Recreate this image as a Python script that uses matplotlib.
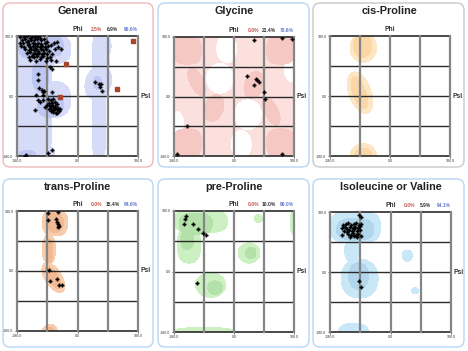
import numpy as np
import matplotlib
matplotlib.use("Agg")
import matplotlib.pyplot as plt
from matplotlib.patches import FancyBboxPatch

plt.rcParams["font.family"] = ["Liberation Sans", "DejaVu Sans"]

# ---------------- data ----------------
panel_titles = ["General", "Glycine", "cis-Proline", "trans-Proline", "pre-Proline", "Isoleucine or Valine"]
panel_percent = [("2.5%", "6.9%", "90.6%"), ("0.0%", "21.4%", "78.6%"), None,
                 ("0.0%", "15.4%", "84.6%"), ("0.0%", "10.0%", "90.0%"), ("0.0%", "5.9%", "94.1%")]

general_phi = [-170, -160, -150, -142, -135, -125, -118, -112,
               -165, -155, -146, -138, -128, -120, -108, -100,
               -172, -162, -150, -143, -133, -126, -117, -109, -98, -90, -70, -62,
               -168, -158, -148, -140, -132, -127, -120, -113, -105, -97, -88, -80, -58,
               -155, -145, -138, -130, -124, -118, -110, -103, -95, -85, -68, -50,
               -150, -140, -133, -126, -120, -114, -106, -99, -90, -75,
               -145, -135, -128, -120, -110, -102, -92, -82,
               -140, -122, -112, -95, -78, -65,
               -82, -77, -117, -119, -114, -107, -104, -99, -102, -75, -122, -119, -112, -104, -127, -97,
               -88, -80, -72, -85, -76, -68, -62, -90, -82, -74, -66, -58, -86, -78, -70, -62, -55, -72,
               -65, -80, -60, -68, -75, -52,
               51, 63, 71, 68, 73,
               -77, -89, -152, -156]
general_psi = [178, 176, 179, 175, 178, 176, 179, 174,
               168, 170, 166, 169, 167, 170, 168, 171,
               160, 158, 161, 157, 160, 156, 159, 157, 160, 162, 160, 163,
               150, 148, 152, 147, 150, 145, 149, 146, 151, 147, 150, 152, 148,
               140, 138, 142, 137, 140, 136, 141, 137, 140, 136, 142, 140,
               128, 131, 127, 130, 126, 129, 125, 130, 127, 125,
               118, 121, 117, 120, 116, 119, 115, 118,
               108, 105, 110, 104, 108, 106,
               88, 80, 66, 48, 23, 18, 12, 16, 3, 13, 3, -12, -17, -12, -42, -32,
               -8, -12, -10, -20, -22, -18, -25, -28, -30, -33, -30, -35, -38, -40, -42, -40, -45, -48,
               -50, -46, -52, -36, -28, -38,
               43, 35, 35, 26, 16,
               -162, -170, -177, -179]
general_out_phi = [165, -33, 117, -51]
general_out_psi = [164, 95, 22, -4]

glycine_phi = [61, 143, 173, 40, 65, 69, 76, 61, 90, 94, -141, -170, 143]
glycine_psi = [170, 178, 175, 62, 53, 50, 45, 34, 15, -8, -90, -175, -173]

cispro_phi = []
cispro_psi = []

transpro_phi = [-87, -57, -87, -65, -62, -59, -54, -57, -84, -82, -60, -54, -47]
transpro_psi = [173, 178, 153, 155, 148, 141, 136, 133, 3, -30, -23, -42, -42]

prepro_phi = [-145, -147, -149, -122, -107, -94, -85, -112]
prepro_psi = [165, 157, 140, 140, 127, 114, 109, -35]

ileval_phi = [-95, -87, -140, -132, -125, -118, -110, -102, -95, -88, -143, -135, -128, -120,
              -113, -106, -98, -90, -138, -130, -122, -115, -108, -100, -92, -126, -118, -112,
              -104, -96, -145, -120, -110, -100, -88, -95, -88]
ileval_psi = [172, 166, 140, 143, 146, 141, 144, 147, 142, 145, 132, 135, 130, 134,
              131, 136, 133, 138, 124, 121, 126, 123, 128, 122, 125, 115, 112, 117,
              110, 114, 110, 105, 107, 104, 108, -27, -44]

# region shapes: (phi, psi, half-width, half-height, rotation deg, power)
general_allowed = [(-100, 140, 80, 45, 0, 3), (-130, 0, 54, 190, 0, 5), (-80, -10, 60, 55, 0, 2.5),
                   (-120, -170, 52, 32, 0, 2), (75, 150, 25, 42, 0, 2), (64, 0, 20, 190, 0, 5),
                   (62, 40, 38, 52, -20, 2), (72, 100, 24, 35, 0, 2)]
general_favored = [(-115, 145, 60, 38, 0, 2.5), (-62, 150, 20, 30, 0, 2), (-110, 60, 25, 50, 0, 2),
                   (-80, -30, 40, 33, 20, 2), (60, 40, 12, 20, 0, 2), (-150, -178, 25, 15, 0, 2)]

glycine_allowed = [(0, 0, 200, 200, 0, 8)]
glycine_empty = [(-22, 145, 30, 42, 0, 2), (-42, 55, 40, 45, 0, 2), (22, -145, 30, 42, 0, 2),
                 (42, -55, 40, 45, 0, 2), (175, 85, 25, 40, 0, 2), (-175, -85, 25, 40, 0, 2)]
glycine_favored = [(-140, 140, 42, 42, 0, 3), (140, 140, 42, 42, 0, 3), (-140, -140, 42, 42, 0, 3),
                   (140, -140, 42, 42, 0, 3), (60, 35, 28, 42, -20, 2), (-60, -35, 28, 42, -20, 2),
                   (-112, 45, 20, 45, 25, 2), (112, -45, 20, 45, 25, 2)]

cispro_allowed = [(-80, 145, 40, 44, 0, 2), (-90, 10, 33, 65, 20, 2), (-80, -180, 40, 37, 0, 2)]
cispro_favored = [(-82, 150, 28, 34, 0, 2), (-92, 10, 19, 50, 20, 2), (-80, -180, 26, 24, 0, 2)]

transpro_allowed = [(-67, 145, 38, 40, 0, 2.5), (-85, 65, 20, 45, 0, 2), (-72, -20, 25, 50, 32, 2),
                    (-82, -180, 22, 20, 0, 2)]
transpro_favored = [(-67, 145, 25, 30, 0, 2), (-84, 60, 11, 35, 0, 2), (-72, -20, 14, 38, 32, 2),
                    (-82, -180, 12, 12, 0, 2)]

prepro_allowed = [(-100, 150, 80, 35, 0, 3), (-135, 80, 35, 55, 0, 2.5), (73, 157, 12, 12, 0, 2),
                  (180, 145, 12, 35, 0, 2), (45, 55, 33, 30, 0, 2), (-70, -40, 45, 37, 0, 2),
                  (-90, -182, 90, 15, 0, 3)]
prepro_favored = [(-115, 142, 50, 32, 0, 2.5), (-140, 95, 20, 30, 0, 2), (50, 55, 16, 16, 0, 2),
                  (-57, -48, 22, 20, 0, 2)]

ileval_allowed = [(-105, 135, 75, 48, 0, 3), (-115, 65, 22, 35, 0, 2), (-92, -20, 55, 58, 0, 2.2),
                  (-110, -178, 45, 25, 0, 2), (50, 49, 15, 17, 0, 2), (73, -56, 10, 10, 0, 2)]
ileval_favored = [(-105, 128, 55, 33, 0, 2.5), (-95, -12, 30, 40, 0, 2)]

# ---------------- style ----------------
light_cols = ["#d6dcf8", "#fbe0de", "#fde6c3", "#f8cdae", "#cdf0c3", "#c8e8f8"]
dark_cols = ["#bec7f1", "#f5c8c4", "#fbd6a6", "#f2ba94", "#b4e1a9", "#b2d7ec"]
frame_cols = ["#f0b8bc", "#b8d6f4", "#c8c8c8", "#b8d6f4", "#b8d6f4", "#b8d6f4"]
frames = [(3, 3, 150, 164), (158, 3, 151, 164), (313, 3, 151, 164),
          (3, 179, 150, 168), (158, 179, 151, 168), (313, 179, 151, 168)]
plots = [(17, 36, 121, 120), (174, 37, 120, 119), (330, 36, 120, 120),
         (17, 211, 121, 120), (174, 211, 120, 121), (330, 212, 121, 120)]
title_y = [11.5, 11.5, 11.5, 187, 187, 187]

allowed = [general_allowed, glycine_allowed, cispro_allowed, transpro_allowed, prepro_allowed, ileval_allowed]
favored = [general_favored, glycine_favored, cispro_favored, transpro_favored, prepro_favored, ileval_favored]
empty = [[], glycine_empty, [], [], [], []]
pts = [(general_phi, general_psi), (glycine_phi, glycine_psi), (cispro_phi, cispro_psi),
       (transpro_phi, transpro_psi), (prepro_phi, prepro_psi), (ileval_phi, ileval_psi)]

W, H = 468, 351
fig = plt.figure(figsize=(W / 100, H / 100), dpi=100)
bg = fig.add_axes([0, 0, 1, 1])
bg.set_xlim(0, W)
bg.set_ylim(H, 0)
bg.axis("off")

g = np.linspace(-180, 180, 361)
X, Y = np.meshgrid(g, g)


def field(shapes):
    f = np.full(X.shape, -10.0)
    for cx, cy, a, b, rot, p in shapes:
        t = np.deg2rad(rot)
        dx, dy = X - cx, Y - cy
        u = dx * np.cos(t) + dy * np.sin(t)
        v = -dx * np.sin(t) + dy * np.cos(t)
        d = (np.abs(u / a) ** p + np.abs(v / b) ** p) ** (1.0 / p)
        f = np.maximum(f, 1 - d)
    return f


for i in range(6):
    fx, fy, fw, fh = frames[i]
    bg.add_patch(FancyBboxPatch((fx, fy), fw, fh, boxstyle="round,pad=0,rounding_size=7",
                                fc="white", ec=frame_cols[i], lw=1.0))
    px, py, pw, ph = plots[i]
    bg.text(px + pw / 2, title_y[i], panel_titles[i], ha="center", va="center",
            fontsize=7.8, fontweight="bold", color="#222222")

    ax = fig.add_axes([px / W, 1 - (py + ph) / H, pw / W, ph / H])
    ax.set_xlim(-180, 180)
    ax.set_ylim(-180, 180)
    for s in ax.spines.values():
        s.set_visible(False)
    ax.contourf(X, Y, field(allowed[i]), levels=[0, 100], colors=[light_cols[i]], zorder=1)
    if empty[i]:
        ax.contourf(X, Y, field(empty[i]), levels=[0, 100], colors=["white"], zorder=1.1)
    ax.contourf(X, Y, field(favored[i]), levels=[0, 100], colors=[dark_cols[i]], zorder=1.2)

    for v in [-90, 0, 90]:
        ax.axhline(v, color="#2a2a2a", lw=1.0, zorder=2)
    ax.axhline(180, color="#2a2a2a", lw=1.2, zorder=2, clip_on=False)
    ax.axhline(-180, color="#2a2a2a", lw=1.2, zorder=2, clip_on=False)
    for v in [-180, -90, 0, 90, 180]:
        ax.axvline(v, color="#858585", lw=1.6, zorder=2.1, clip_on=False)

    phs, pss = pts[i]
    if phs:
        ax.plot(phs, pss, ls="none", marker="P", ms=2.6, mfc="black", mec="black", mew=0.2, zorder=3)
    if i == 0:
        ax.plot(general_out_phi, general_out_psi, ls="none", marker="s", ms=3.2,
                mfc="#a8452e", mec="#a8452e", zorder=3.5)

    ax.set_xticks([-180, 0, 180])
    ax.set_xticklabels(["-180.0", "0.0", "180.0"])
    ax.set_yticks([-180, 0, 180])
    ax.set_yticklabels(["-180.0", "0.0", "180.0"])
    ax.tick_params(labelsize=2.6, length=1.5, width=0.5, pad=1, colors="#333333")

    ax.text(0.5, 1.025, "Phi", transform=ax.transAxes, ha="center", va="bottom",
            fontsize=4.8, fontweight="bold", color="#333333")
    ax.text(1.02, 0.5, "Psi", transform=ax.transAxes, ha="left", va="center",
            fontsize=4.8, fontweight="bold", color="#333333")
    if panel_percent[i]:
        for xf, txt, c in zip([0.66, 0.79, 0.94], panel_percent[i], ["#c8584e", "#333333", "#6276cc"]):
            ax.text(xf, 1.03, txt, transform=ax.transAxes, ha="center", va="bottom",
                    fontsize=3.6, fontweight="bold", color=c)

fig.savefig("out.png", dpi=100)
